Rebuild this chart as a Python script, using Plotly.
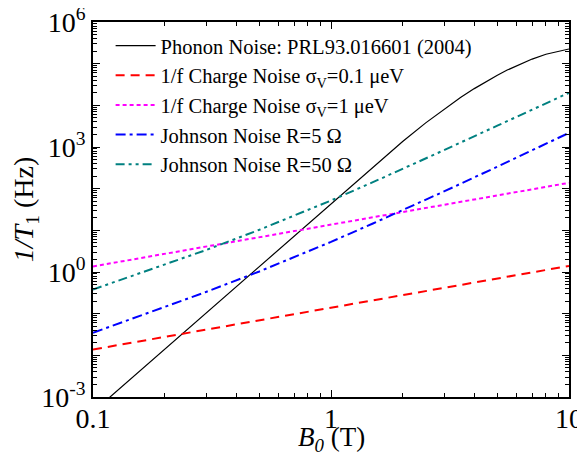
import plotly.graph_objects as go

# ---- data ----
B_phonon = [0.1, 0.2, 0.3, 0.5, 0.7, 1.0, 1.5, 2.0, 2.5, 3.0, 3.5, 4.0, 4.5, 5.0, 5.5, 6.0,
            7.0, 8.0, 9.0, 10.0]
phonon = [4.4e-4, 0.014, 0.106, 1.37, 7.3, 43.7, 332, 1358, 3790, 8300, 15380, 25200, 37800,
          52970, 70200, 88800, 129000, 168000, 200000, 225000]

B_charge = [0.1, 0.3, 1.0, 3.0, 10.0]
charge_01 = [0.0138, 0.0415, 0.139, 0.42, 1.4]
charge_1 = [1.36, 4.1, 13.8, 41, 138]

B_johnson = [0.1, 0.2, 0.3, 0.5, 0.7, 1.0, 1.5, 2.0, 3.0, 5.0, 7.0, 10.0]
johnson_5 = [0.0347, 0.144, 0.336, 1.03, 2.24, 5.28, 14.6, 30.3, 87, 337, 836, 2180]
johnson_50 = [0.38, 1.5, 3.4, 10.3, 22.5, 52, 143, 295, 850, 3250, 8000, 20000]

names = [
    "Phonon Noise: PRL93.016601 (2004)",
    "1/f Charge Noise σ<sub>V</sub>=0.1 μeV",
    "1/f Charge Noise σ<sub>V</sub>=1 μeV",
    "Johnson Noise R=5 Ω",
    "Johnson Noise R=50 Ω",
]

y_major = [1e-3, 1e-2, 1e-1, 1, 10, 100, 1e3, 1e4, 1e5, 1e6]
y_text = ["10<sup>-3</sup>", "", "", "10<sup>0</sup>", "", "", "10<sup>3</sup>", "", "", "10<sup>6</sup>"]
x_major = [0.1, 1, 10]
x_text = ["0.1", "1", "10"]

FONT = "Liberation Serif, Times New Roman, serif"

fig = go.Figure()
fig.add_trace(go.Scatter(x=B_phonon, y=phonon, mode="lines", name=names[0],
                         line=dict(color="black", width=1.2)))
fig.add_trace(go.Scatter(x=B_charge, y=charge_01, mode="lines", name=names[1],
                         line=dict(color="#FF0000", width=2, dash="9px,6px")))
fig.add_trace(go.Scatter(x=B_charge, y=charge_1, mode="lines", name=names[2],
                         line=dict(color="#FF00FF", width=2, dash="4px,3px")))
fig.add_trace(go.Scatter(x=B_johnson, y=johnson_5, mode="lines", name=names[3],
                         line=dict(color="#0000FF", width=2, dash="10px,4px,3px,4px")))
fig.add_trace(go.Scatter(x=B_johnson, y=johnson_50, mode="lines", name=names[4],
                         line=dict(color="#008080", width=2, dash="9px,4px,3px,4px,3px,4px")))

minor_x = [m * d for d in (0.1, 1) for m in range(2, 10)]
minor_y = [m * 10.0 ** e for e in range(-3, 6) for m in range(2, 10)]

common = dict(
    ticks="inside", ticklen=7, tickwidth=1.2, tickcolor="black",
    showline=True, linecolor="black", linewidth=1.8, mirror="allticks",
    showgrid=False, zeroline=False, automargin=False,
    ticklabeloverflow="allow",
    tickfont=dict(family=FONT, size=28, color="black"),
)

fig.update_xaxes(
    type="log", range=[-1, 1],
    tickmode="array", tickvals=x_major, ticktext=x_text,
    ticklabelstandoff=-5,
    minor=dict(tickmode="array", tickvals=minor_x, ticks="inside", ticklen=4,
               tickwidth=1, tickcolor="black", showgrid=False),
    **common,
)
fig.update_yaxes(
    type="log", range=[-3, 6],
    tickmode="array", tickvals=y_major, ticktext=y_text,
    minor=dict(tickmode="array", tickvals=minor_y, ticks="inside", ticklen=4,
               tickwidth=1, tickcolor="black", showgrid=False),
    title=dict(text="<i>1/T</i><sub>1</sub> (Hz)",
               font=dict(family=FONT, size=28, color="black"), standoff=4),
    **common,
)

fig.add_annotation(
    text="<i>B</i><sub><i>0</i></sub> (T)", xref="paper", yref="paper",
    x=0.5, y=0, xanchor="center", yanchor="middle", yshift=-42, showarrow=False,
    font=dict(family=FONT, size=27, color="black"),
)

fig.update_layout(
    width=585, height=476,
    margin=dict(l=85, r=24, t=14, b=87, autoexpand=False),
    paper_bgcolor="white", plot_bgcolor="white",
    showlegend=True,
    legend=dict(x=0.037, y=0.99, xanchor="left", yanchor="top",
                bgcolor="rgba(0,0,0,0)", borderwidth=0,
                font=dict(family=FONT, size=20.5, color="black"),
                tracegroupgap=0, itemwidth=40),
    font=dict(family=FONT, color="black"),
)

fig.write_html("out.html")
